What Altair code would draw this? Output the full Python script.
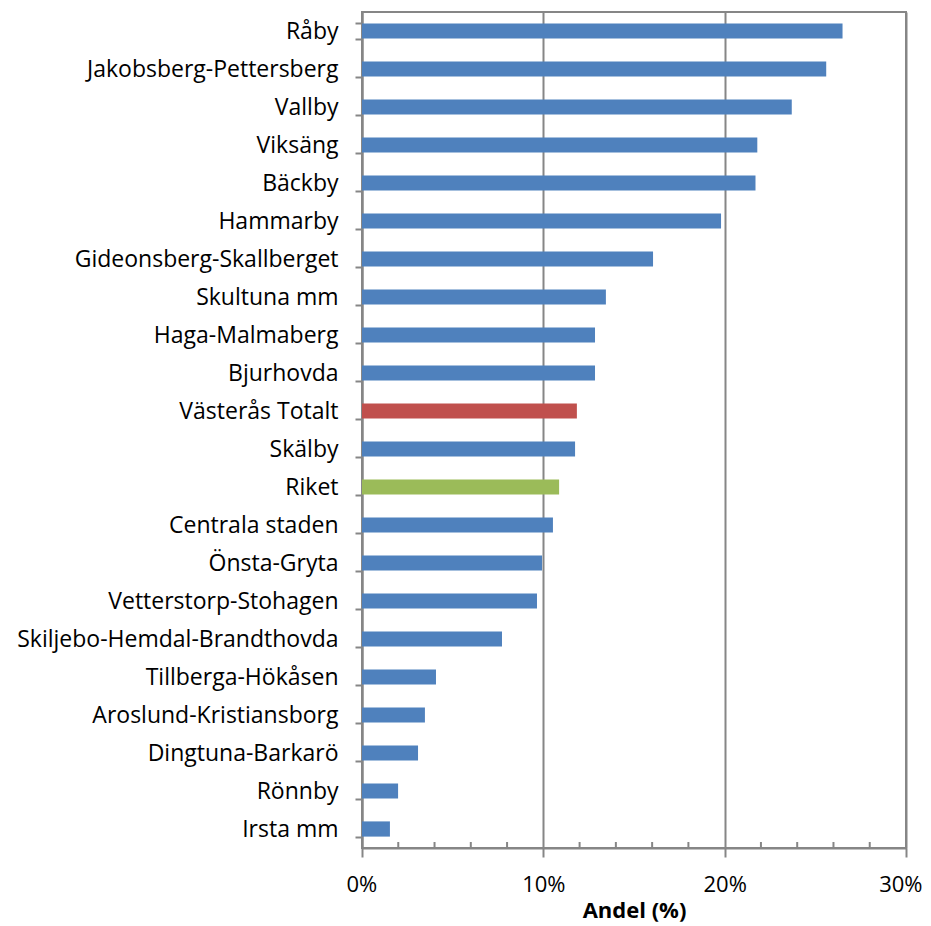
import altair as alt
import pandas as pd

categories = [
    "Råby", "Jakobsberg-Pettersberg", "Vallby", "Viksäng", "Bäckby", "Hammarby",
    "Gideonsberg-Skallberget", "Skultuna mm", "Haga-Malmaberg", "Bjurhovda",
    "Västerås Totalt", "Skälby", "Riket", "Centrala staden", "Önsta-Gryta",
    "Vetterstorp-Stohagen", "Skiljebo-Hemdal-Brandthovda", "Tillberga-Hökåsen",
    "Aroslund-Kristiansborg", "Dingtuna-Barkarö", "Rönnby", "Irsta mm",
]
values = [
    26.5, 25.6, 23.7, 21.8, 21.7, 19.8,
    16.05, 13.45, 12.85, 12.85,
    11.85, 11.75, 10.87, 10.53, 9.93,
    9.65, 7.72, 4.08,
    3.47, 3.09, 1.99, 1.54,
]
groups = ["Område"] * 10 + ["Västerås"] + ["Område"] + ["Riket"] + ["Område"] * 9
minor_ticks = [2, 4, 6, 8, 12, 14, 16, 18, 22, 24, 26, 28]

df = pd.DataFrame({"omrade": categories, "andel": values, "grupp": groups})
ticks_df = pd.DataFrame({"t": minor_ticks})

FONT = "Open Sans"
GREY = "#868686"
W, H = 544, 836

bars = alt.Chart(df).mark_bar().encode(
    y=alt.Y(
        "omrade:N",
        sort=categories,
        title=None,
        scale=alt.Scale(paddingInner=0.6, paddingOuter=0.3),
        axis=alt.Axis(
            labelFont=FONT, labelFontSize=23, labelColor="#000000",
            labelPadding=17, tickSize=7, tickColor=GREY, tickWidth=2,
            tickBand="extent", domainColor=GREY, domainWidth=2, grid=False,
            labelLimit=400,
        ),
    ),
    x=alt.X(
        "andel:Q",
        title="Andel (%)",
        scale=alt.Scale(domain=[0, 30], nice=False),
        axis=alt.Axis(
            values=[0, 10, 20, 30],
            labelExpr="datum.value + '%'",
            labelFont=FONT, labelFontSize=22, labelColor="#000000",
            labelPadding=17, tickSize=9, tickColor=GREY, tickWidth=2,
            labelFlush=True, labelFlushOffset=16,
            domainColor=GREY, domainWidth=2,
            grid=True, gridColor=GREY, gridWidth=2,
            titleFont=FONT, titleFontSize=22, titleFontWeight="bold",
            titleColor="#000000", titlePadding=5,
        ),
    ),
    color=alt.Color(
        "grupp:N",
        scale=alt.Scale(domain=["Område", "Västerås", "Riket"],
                        range=["#4F81BD", "#C0504D", "#9BBB59"]),
        legend=None,
    ),
)

minor = alt.Chart(ticks_df).mark_rule(color=GREY, strokeWidth=2).encode(
    x=alt.X("t:Q"),
    y=alt.value(H - 6),
    y2=alt.value(H),
)

chart = alt.layer(bars, minor).properties(
    width=W, height=H,
    autosize=alt.AutoSizeParams(type="none"),
    padding={"left": 354, "top": 4, "right": 16, "bottom": 74},
).configure_view(stroke=GREY, strokeWidth=2)

chart.save("out.html", embed_options={"renderer": "svg", "actions": False})
